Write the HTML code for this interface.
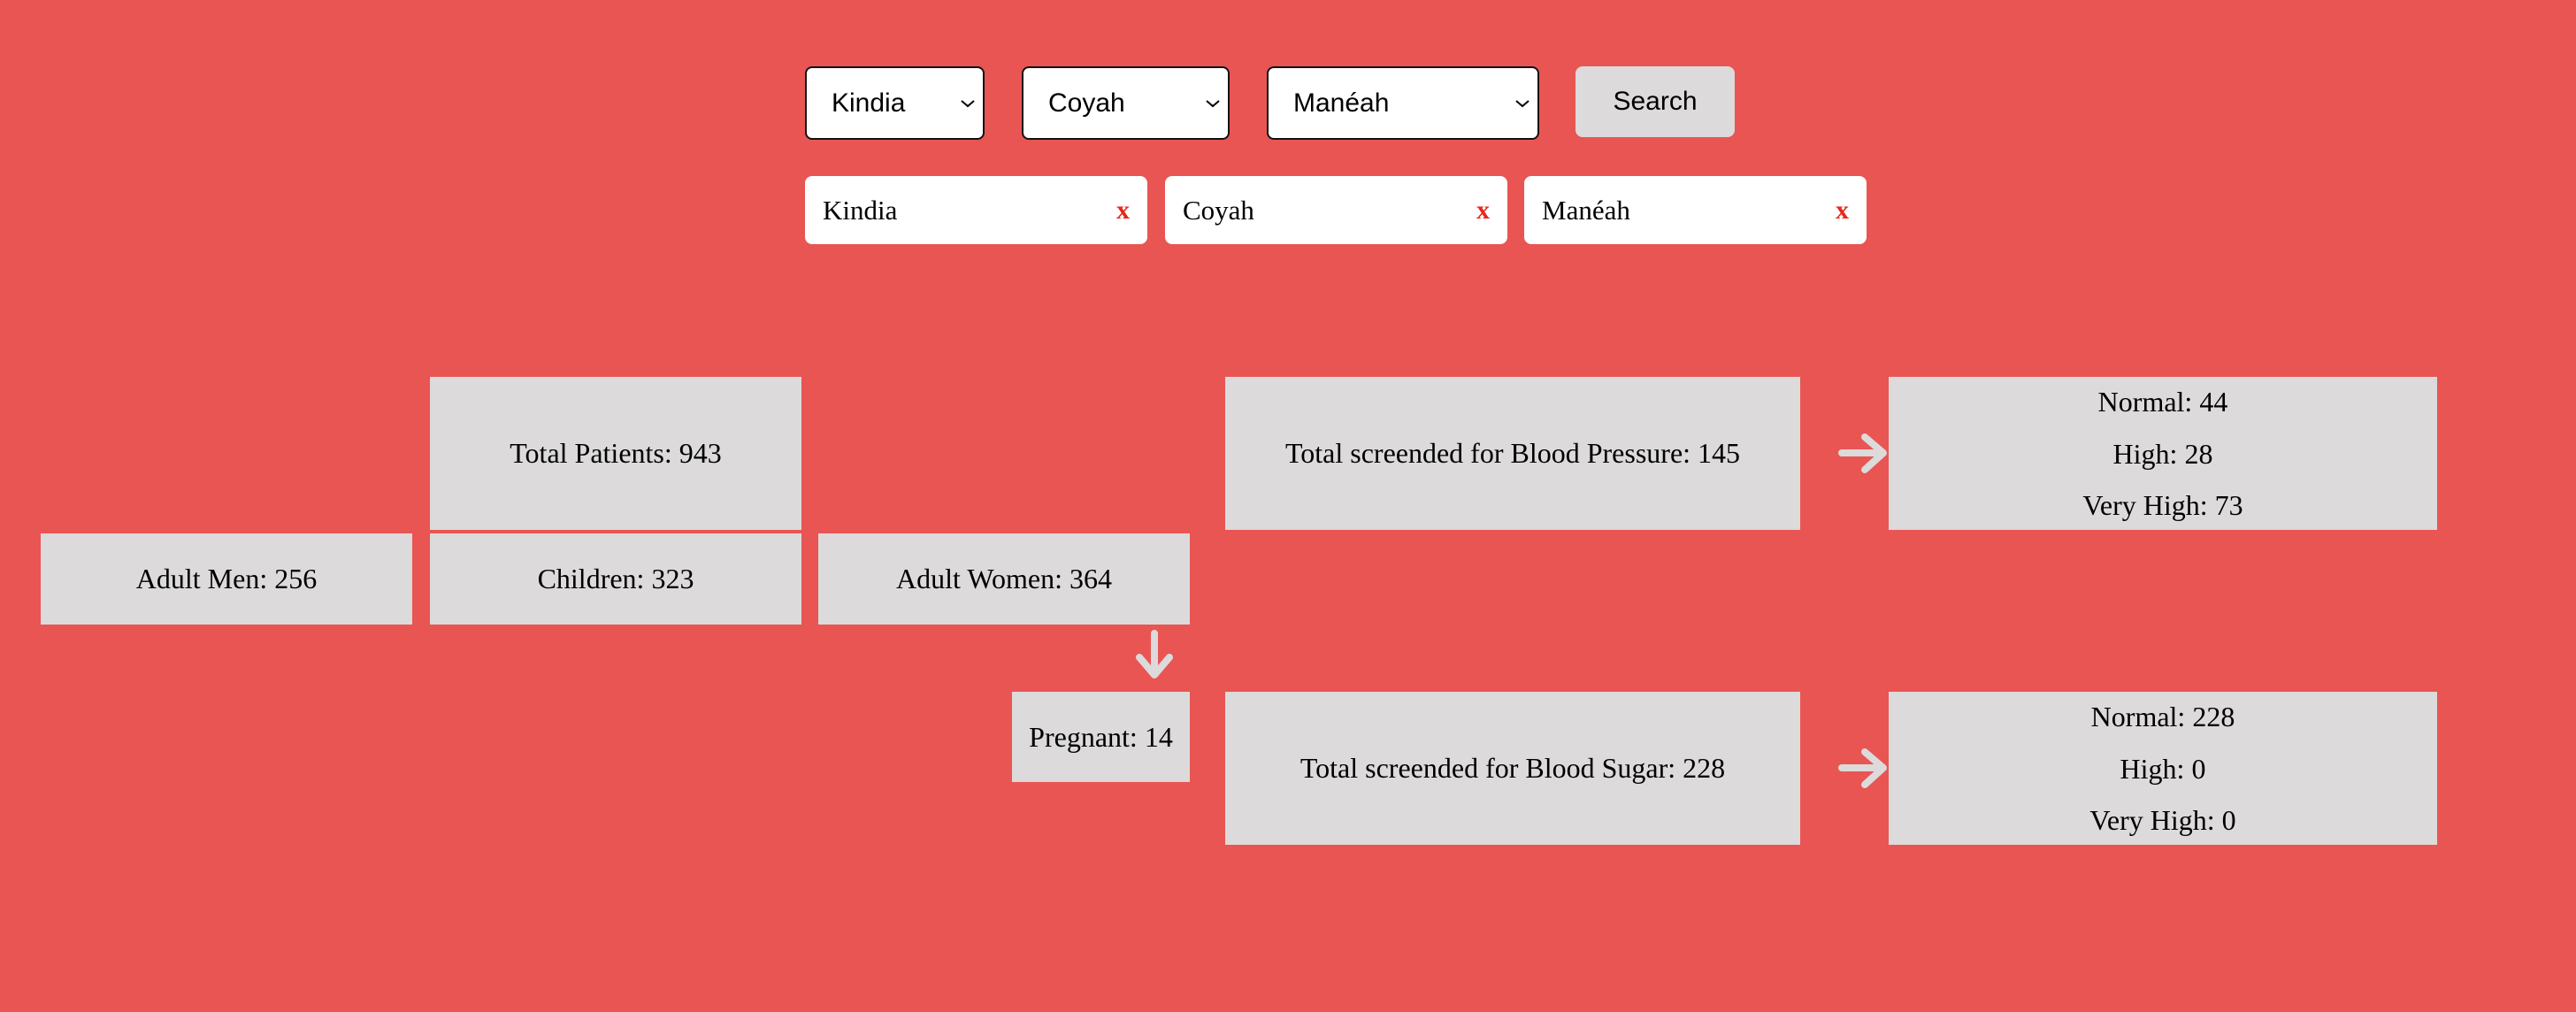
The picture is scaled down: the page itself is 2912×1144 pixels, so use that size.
<!DOCTYPE html>
<html><head><meta charset="utf-8"><style>
*{margin:0;padding:0;box-sizing:border-box}
body{width:2912px;height:1144px;background:#E85553;position:relative;overflow:hidden;font-family:"Liberation Serif",serif}
.a{position:absolute}
.sel{position:absolute;top:75px;height:83px;background:#fff;border:2px solid #111;border-radius:8px;font-family:"Liberation Sans",sans-serif;font-size:30px;color:#000;line-height:79px}
.sel span{position:absolute;left:28px}
.sel svg{position:absolute;right:8px;top:34px}
.btn{position:absolute;left:1781px;top:75px;width:180px;height:80px;background:#DCDADA;border-radius:8px;font-family:"Liberation Sans",sans-serif;font-size:30px;line-height:80px;text-align:center;color:#000}
.tag{position:absolute;top:199px;height:77px;width:387px;background:#fff;border-radius:8px;font-size:31px;line-height:77px;color:#000}
.tag span{position:absolute;left:20px}
.tag b{position:absolute;right:20px;color:#E8261C;font-size:30px}
.box{position:absolute;background:#DCDADA;display:flex;align-items:center;justify-content:center;font-size:32px;color:#000;text-align:center}
.multi{flex-direction:column;justify-content:space-between;padding:8px 0 8px}
.multi div{line-height:40px}
</style></head><body>
<div class="sel" style="left:910px;width:203px"><span>Kindia</span><svg width="18" height="12"><path d="M2 3 L9 9 L16 3" stroke="#000" stroke-width="2" fill="none"/></svg></div>
<div class="sel" style="left:1155px;width:235px"><span>Coyah</span><svg width="18" height="12"><path d="M2 3 L9 9 L16 3" stroke="#000" stroke-width="2" fill="none"/></svg></div>
<div class="sel" style="left:1432px;width:308px"><span>Manéah</span><svg width="18" height="12"><path d="M2 3 L9 9 L16 3" stroke="#000" stroke-width="2" fill="none"/></svg></div>
<div class="btn">Search</div>
<div class="tag" style="left:910px"><span>Kindia</span><b>x</b></div>
<div class="tag" style="left:1317px"><span>Coyah</span><b>x</b></div>
<div class="tag" style="left:1723px"><span>Manéah</span><b>x</b></div>

<div class="box" style="left:486px;top:426px;width:420px;height:173px">Total Patients: 943</div>
<div class="box" style="left:46px;top:603px;width:420px;height:103px">Adult Men: 256</div>
<div class="box" style="left:486px;top:603px;width:420px;height:103px">Children: 323</div>
<div class="box" style="left:925px;top:603px;width:420px;height:103px">Adult Women: 364</div>
<div class="box" style="left:1144px;top:782px;width:201px;height:102px">Pregnant: 14</div>
<div class="box" style="left:1385px;top:426px;width:650px;height:173px">Total screended for Blood Pressure: 145</div>
<div class="box multi" style="left:2135px;top:426px;width:620px;height:173px"><div>Normal: 44</div><div>High: 28</div><div>Very High: 73</div></div>
<div class="box" style="left:1385px;top:782px;width:650px;height:173px">Total screended for Blood Sugar: 228</div>
<div class="box multi" style="left:2135px;top:782px;width:620px;height:173px"><div>Normal: 228</div><div>High: 0</div><div>Very High: 0</div></div>

<svg class="a" style="left:0;top:0" width="2912" height="1144">
<g stroke="#DCDADA" stroke-width="8" stroke-linecap="round" stroke-linejoin="round" fill="none">
<path d="M1305 716 L1305 762 M1288 743 L1305 763 L1322 743"/>
<path d="M2082 512 L2128 512 M2108 494 L2129 512 L2108 531"/>
<path d="M2082 868 L2128 868 M2108 850 L2129 868 L2108 887"/>
</g></svg>
</body></html>
